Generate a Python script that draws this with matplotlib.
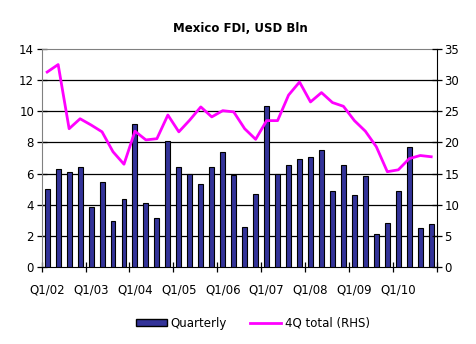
import matplotlib
matplotlib.use("Agg")
import matplotlib.pyplot as plt
from matplotlib.lines import Line2D
from matplotlib.patches import Patch
import numpy as np

quarterly = [5.0, 6.27, 6.08, 6.42, 3.83, 5.44, 2.93, 4.35, 9.16, 4.09, 3.13, 8.07,
             6.42, 5.97, 5.31, 6.42, 7.37, 5.89, 2.55, 4.67, 10.32, 5.97, 6.53, 6.92,
             7.05, 7.49, 4.86, 6.53, 4.60, 5.82, 2.10, 2.81, 4.86, 7.69, 2.48, 2.74]
total_4q = [31.3, 32.5, 22.2, 23.8, 22.8, 21.7, 18.5, 16.5, 21.8, 20.4, 20.6, 24.4,
            21.7, 23.6, 25.7, 24.1, 25.1, 24.9, 22.2, 20.5, 23.5, 23.5, 27.6, 29.7,
            26.5, 28.0, 26.4, 25.8, 23.5, 21.8, 19.3, 15.3, 15.6, 17.4, 17.9, 17.7]
year_labels = ["Q1/02", "Q1/03", "Q1/04", "Q1/05", "Q1/06", "Q1/07", "Q1/08", "Q1/09", "Q1/10"]

plt.rcParams['font.family'] = ['DejaVu Sans']
fig = plt.figure(figsize=(4.77, 3.44), dpi=100)
ax = fig.add_axes([0.0874, 0.2238, 0.8281, 0.6338])
n = len(quarterly)
x = np.arange(n)
ax.bar(x, quarterly, width=0.45, color="#333399", edgecolor="black", linewidth=0.8, zorder=3)
ax.set_xlim(-0.5, n - 0.5)
ax.set_ylim(0, 14)
ax.set_yticks(range(0, 15, 2))
for v in range(2, 14, 2):
    ax.axhline(v, color="black", linewidth=0.9, zorder=1)

ax.set_xticks(np.arange(-0.5, n, 4))
ax.set_xticklabels([])
ax.set_xticks(np.arange(0, n, 4), minor=True)
ax.set_xticklabels(year_labels, minor=True)
ax.tick_params(axis='x', which='major', direction='inout', length=7, width=0.9, color='black')
ax.tick_params(axis='x', which='minor', length=0, pad=12, labelsize=8.5)
ax.tick_params(axis='y', direction='inout', length=7, width=0.9, labelsize=8.5, pad=2)

for s in ['left', 'top']:
    ax.spines[s].set_color('#808080')
ax.spines['bottom'].set_color('black')
ax.spines['right'].set_visible(False)

ax2 = ax.twinx()
ax2.plot(x, total_4q, color="#FF00FF", linewidth=2, zorder=4)
ax2.set_ylim(0, 35)
ax2.set_yticks(range(0, 36, 5))
ax2.tick_params(axis='y', direction='inout', length=7, width=0.9, labelsize=8.5, pad=2)
for s in ['left', 'top', 'bottom']:
    ax2.spines[s].set_visible(False)
ax2.spines['right'].set_color('black')

fig.text(0.503, 0.918, "Mexico FDI, USD Bln", ha='center', va='center', fontsize=8.5, fontweight='bold')

handles = [Patch(facecolor="#333399", edgecolor="black", label="Quarterly"),
           Line2D([0], [0], color="#FF00FF", linewidth=2, label="4Q total (RHS)")]
fig.legend(handles=handles, loc='center', bbox_to_anchor=(0.53, 0.06), ncol=2, frameon=False,
           fontsize=8.5, handlelength=2.6, handleheight=0.6, columnspacing=2.0, handletextpad=0.3)

fig.savefig("out.png", dpi=100)
